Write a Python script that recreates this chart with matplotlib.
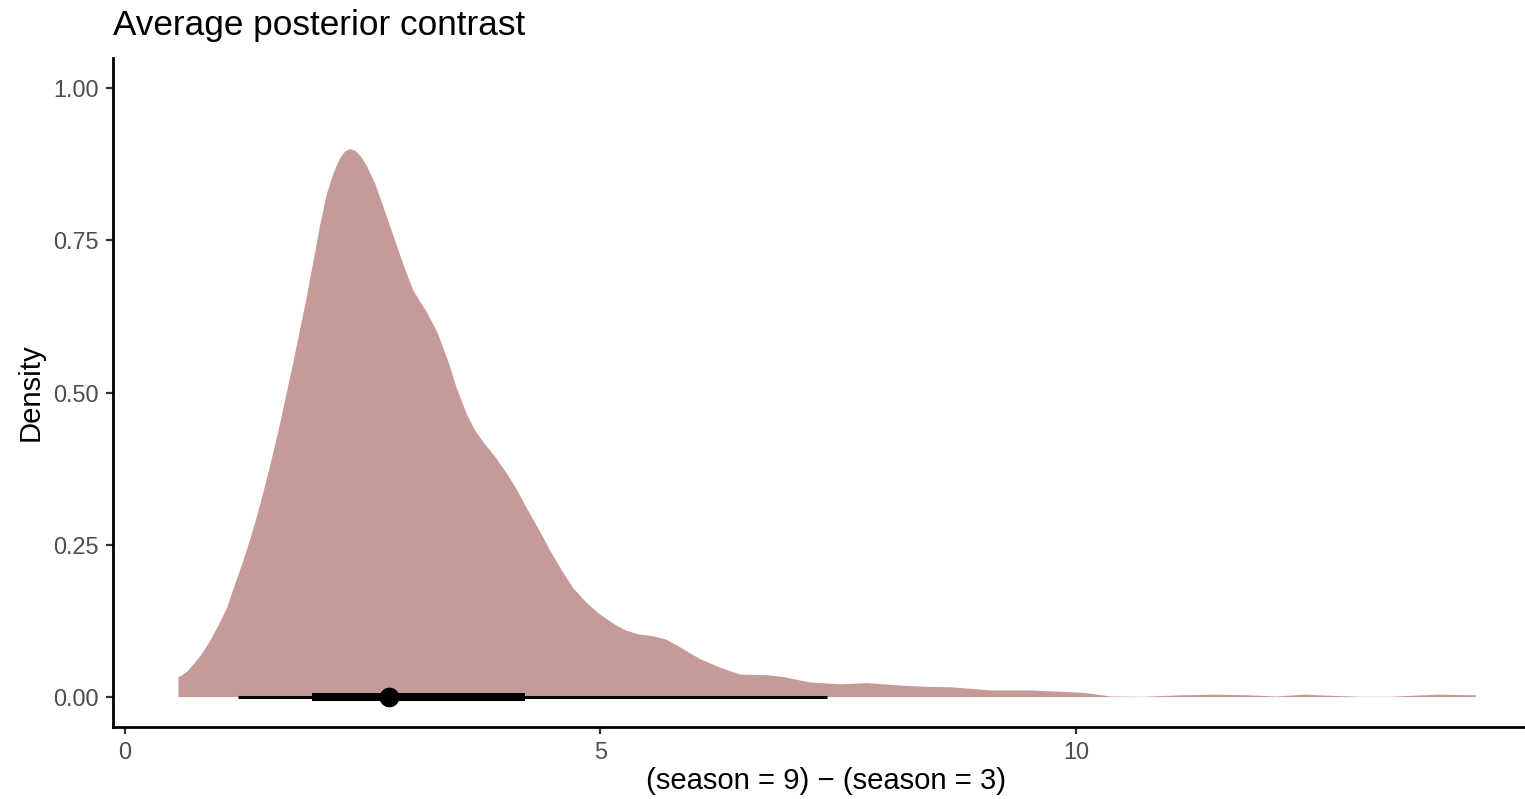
import matplotlib
matplotlib.use("Agg")
import matplotlib.pyplot as plt

# Posterior density of the contrast (season = 9) - (season = 3)
contrast_x = [0.557, 0.60, 0.65, 0.72, 0.80, 0.89, 0.98, 1.07, 1.15, 1.24,
              1.31, 1.38, 1.47, 1.56, 1.63, 1.70, 1.77, 1.84, 1.90, 1.945,
              2.00, 2.05, 2.12, 2.19, 2.25, 2.31, 2.366, 2.42, 2.48, 2.54,
              2.63, 2.72, 2.82, 2.93, 3.03, 3.10, 3.17, 3.28, 3.40, 3.48,
              3.59, 3.68, 3.77, 3.89, 4.01, 4.12, 4.22, 4.35, 4.47, 4.59,
              4.71, 4.85, 4.99, 5.15, 5.27, 5.40, 5.55, 5.68, 5.80, 5.95,
              6.05, 6.26, 6.47, 6.75, 6.92, 7.20, 7.52, 7.80, 8.15, 8.40,
              8.70, 9.10, 9.50, 9.80, 10.08, 10.36, 10.70, 11.10, 11.45, 11.80,
              12.10, 12.40, 12.70, 13.00, 13.30, 13.80, 14.20]
contrast_density = [0.033, 0.036, 0.042, 0.054, 0.070, 0.092, 0.118, 0.147, 0.184, 0.224,
                    0.258, 0.295, 0.348, 0.405, 0.452, 0.503, 0.553, 0.607, 0.652, 0.690,
                    0.735, 0.778, 0.828, 0.862, 0.884, 0.897, 0.901, 0.898, 0.888, 0.873,
                    0.843, 0.803, 0.758, 0.708, 0.668, 0.650, 0.633, 0.600, 0.550, 0.510,
                    0.465, 0.438, 0.418, 0.395, 0.368, 0.340, 0.311, 0.275, 0.240, 0.208,
                    0.179, 0.155, 0.136, 0.119, 0.109, 0.103, 0.100, 0.095, 0.085, 0.071,
                    0.062, 0.048, 0.037, 0.036, 0.033, 0.024, 0.021, 0.023, 0.019, 0.017,
                    0.016, 0.011, 0.011, 0.009, 0.007, 0.001, 0.0005, 0.003, 0.004, 0.003,
                    0.001, 0.004, 0.002, 0.0005, 0.0005, 0.004, 0.003]

# Point summary with 66% and 95% intervals
point_median = 2.78
interval_66 = [1.97, 4.21]
interval_95 = [1.19, 7.38]

x_ticks = [0, 5, 10]
x_tick_labels = ["0", "5", "10"]
y_ticks = [0.00, 0.25, 0.50, 0.75, 1.00]
y_tick_labels = ["0.00", "0.25", "0.50", "0.75", "1.00"]

plt.rcParams["font.family"] = ["Liberation Sans", "DejaVu Sans"]

W, H = 1525, 799
fig = plt.figure(figsize=(W / 100, H / 100), dpi=100)
left_px, right_px, top_px, bottom_px = 113, 1540, 58, 727
ax = fig.add_axes([left_px / W, (H - bottom_px) / H,
                   (right_px - left_px) / W, (bottom_px - top_px) / H])

fill_color = "#C79A9A"
ax.fill_between(contrast_x, 0, contrast_density, color=fill_color,
                linewidth=0, zorder=2)

# interval + point
ax.plot(interval_95, [0, 0], color="black", linewidth=2.2,
        solid_capstyle="butt", zorder=3)
ax.plot(interval_66, [0, 0], color="black", linewidth=5.8,
        solid_capstyle="butt", zorder=4)
ax.plot([point_median], [0], marker="o", markersize=14.2, color="black",
        markeredgewidth=0, zorder=5)

ax.set_xlim(-0.125, 14.88)
ax.set_ylim(-0.05, 1.05)

ax.set_xticks(x_ticks)
ax.set_xticklabels(x_tick_labels)
ax.set_yticks(y_ticks)
ax.set_yticklabels(y_tick_labels)

for side in ("top", "right"):
    ax.spines[side].set_visible(False)
for side in ("left", "bottom"):
    ax.spines[side].set_linewidth(2.0)
    ax.spines[side].set_color("black")

ax.tick_params(axis="both", length=5.0, width=1.6, color="#333333",
               labelsize=16.9, labelcolor="#4D4D4D", pad=5.0)

ax.set_xlabel("(season = 9) \u2212 (season = 3)", fontsize=21.1,
              color="black", va="center")
ax.xaxis.set_label_coords(0.5, (bottom_px - 781) / (bottom_px - top_px))
ax.set_ylabel("Density", fontsize=21.1, color="black", va="center")
ax.yaxis.set_label_coords((31 - left_px) / (right_px - left_px), 0.5)

ax.text(0, 1 + (top_px - 35) / (bottom_px - top_px), "Average posterior contrast",
        transform=ax.transAxes, ha="left", va="baseline", fontsize=25.3,
        color="black")

fig.savefig("out.png", dpi=100)
